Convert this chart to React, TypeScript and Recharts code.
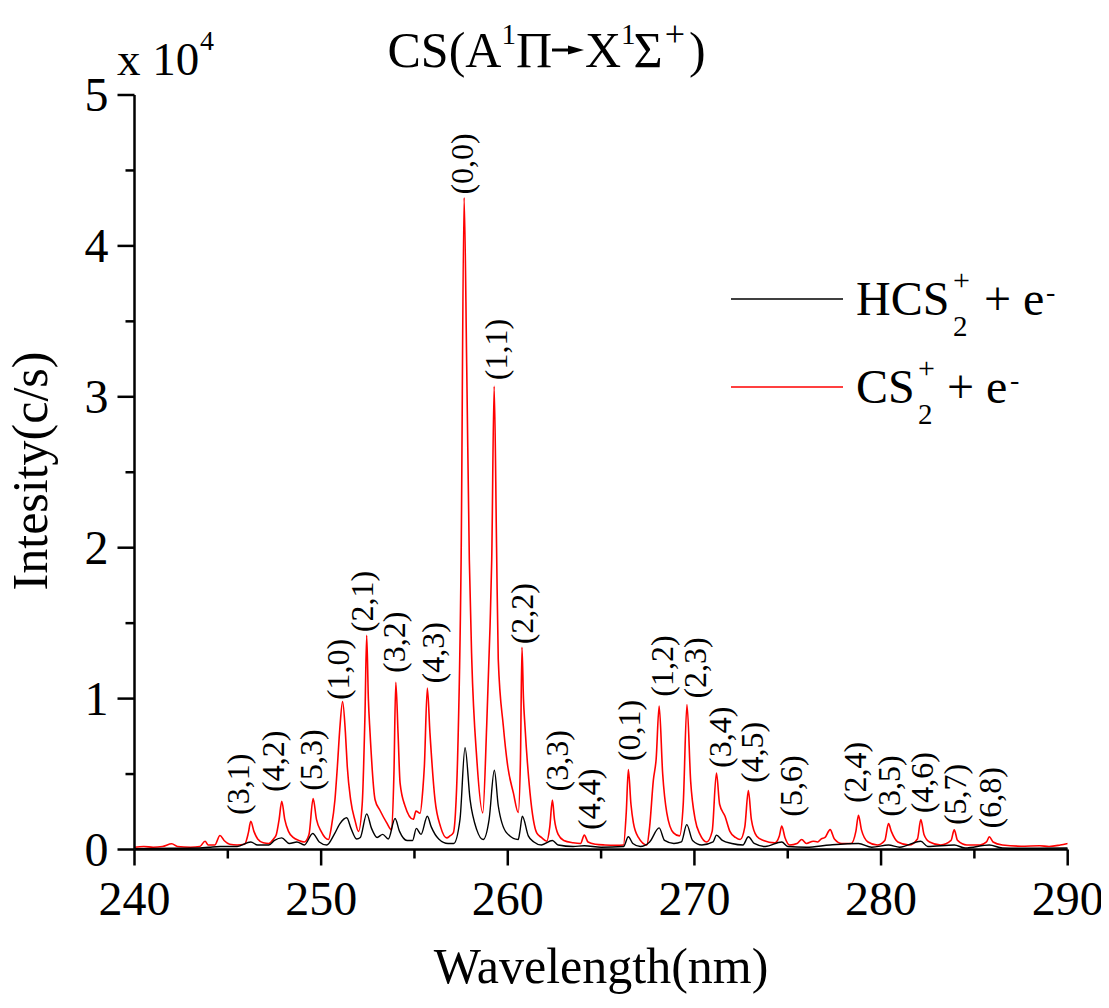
import React from "react";
import { ComposedChart, Line, Scatter, XAxis, YAxis } from "recharts";

// ---- data (intensity in units of 10^4 c/s) ----
const cs2Wavelength = [
  240.0, 240.5, 241.0, 241.5, 242.0, 242.3, 243.0, 243.5, 243.78, 243.95, 244.3, 244.58, 244.8, 245.1, 245.5, 245.9,
  246.1, 246.23, 246.4, 246.6, 246.9, 247.2, 247.45, 247.6, 247.75, 247.89, 248.05, 248.25, 248.5, 248.8, 249.1,
  249.35, 249.57, 249.75, 250.0, 250.39, 250.55, 250.74, 250.87, 251.0, 251.15, 251.3, 251.4, 251.58, 251.82, 252.0,
  252.2, 252.35, 252.44, 252.53, 252.62, 252.89, 253.15, 253.5, 253.78, 253.9, 254.0, 254.12, 254.23, 254.5, 254.94,
  255.08, 255.3, 255.45, 255.53, 255.69, 255.83, 256.1, 256.4, 256.73, 256.9, 257.08, 257.2, 257.31, 257.5, 257.66,
  257.8, 257.94, 258.07, 258.34, 258.66, 258.87, 259.05, 259.14, 259.27, 259.4, 259.49, 259.76, 260.0, 260.3, 260.56,
  260.68, 260.76, 260.84, 260.92, 261.19, 261.55, 261.8, 262.09, 262.25, 262.39, 262.5, 262.7, 263.0, 263.5, 263.9,
  264.1, 264.3, 264.7, 265.2, 265.8, 266.2, 266.35, 266.46, 266.6, 266.73, 267.0, 267.45, 267.6, 267.8, 267.95,
  268.11, 268.3, 268.52, 268.88, 269.2, 269.4, 269.6, 269.8, 270.04, 270.3, 270.66, 270.95, 271.18, 271.35, 271.64,
  271.9, 272.2, 272.45, 272.7, 272.89, 273.05, 273.34, 273.7, 274.3, 274.55, 274.68, 274.85, 275.1, 275.5, 275.75,
  276.0, 276.37, 276.6, 276.8, 277.0, 277.27, 277.5, 277.9, 278.4, 278.65, 278.79, 278.95, 279.3, 279.8, 280.2,
  280.4, 280.55, 280.9, 281.5, 281.95, 282.13, 282.3, 282.6, 283.2, 283.75, 283.92, 284.1, 284.6, 285.3, 285.65,
  285.8, 286.0, 286.5, 287.5, 288.5, 289.0, 289.6, 290.0,
];
const cs2Intensity = [
  0.015, 0.02, 0.015, 0.02, 0.038, 0.02, 0.015, 0.02, 0.055, 0.03, 0.03, 0.093, 0.06, 0.035, 0.03, 0.035,
  0.11, 0.187, 0.12, 0.07, 0.045, 0.04, 0.07, 0.1, 0.2, 0.32, 0.2, 0.12, 0.08, 0.06, 0.05,
  0.1, 0.338, 0.2, 0.12, 0.066, 0.15, 0.33, 0.55, 0.8, 0.98, 0.775, 0.55, 0.33, 0.19, 0.12,
  0.3, 0.9, 1.42, 1.0, 0.775, 0.33, 0.26, 0.18, 0.13, 0.5, 1.108, 0.773, 0.44, 0.287, 0.2,
  0.254, 0.24, 0.4, 0.55, 1.07, 0.773, 0.33, 0.15, 0.077, 0.09, 0.11, 0.25, 0.6, 1.92, 4.32,
  3.2, 1.92, 1.26, 0.6, 0.243, 0.82, 1.48, 1.92, 3.07, 2.0, 1.26, 0.82, 0.55, 0.375, 0.245,
  0.6, 1.34, 1.0, 0.82, 0.377, 0.11, 0.08, 0.055, 0.15, 0.327, 0.2, 0.1, 0.06, 0.045, 0.04,
  0.095, 0.05, 0.035, 0.03, 0.028, 0.03, 0.25, 0.53, 0.3, 0.177, 0.08, 0.03, 0.15, 0.46, 0.6,
  0.95, 0.5, 0.243, 0.11, 0.09, 0.3, 0.96, 0.45, 0.2, 0.1, 0.05, 0.12, 0.507, 0.3, 0.22,
  0.12, 0.08, 0.066, 0.15, 0.39, 0.2, 0.088, 0.06, 0.044, 0.09, 0.155, 0.08, 0.03, 0.04, 0.066,
  0.04, 0.055, 0.05, 0.07, 0.08, 0.132, 0.07, 0.04, 0.04, 0.12, 0.227, 0.13, 0.05, 0.03, 0.06,
  0.172, 0.12, 0.05, 0.03, 0.07, 0.199, 0.1, 0.05, 0.03, 0.06, 0.13, 0.06, 0.03, 0.03, 0.05,
  0.084, 0.05, 0.03, 0.022, 0.025, 0.02, 0.03, 0.04,
];

const hcs2Wavelength = [
  240.0, 242.0, 243.5, 244.0, 244.6, 245.5, 246.23, 246.6, 247.2, 247.5, 247.89, 248.3, 248.7, 249.1, 249.55,
  249.9, 250.3, 250.7, 251.0, 251.37, 251.6, 251.9, 252.1, 252.44, 252.7, 253.0, 253.3, 253.6, 253.96, 254.2,
  254.6, 254.9, 255.1, 255.35, 255.69, 255.9, 256.3, 256.8, 257.1, 257.44, 257.71, 257.98, 258.34, 258.68, 259.0,
  259.28, 259.49, 259.94, 260.56, 260.65, 260.78, 261.1, 261.4, 261.8, 262.39, 262.7, 263.5, 264.1,
  265.0, 266.2, 266.46, 266.7, 267.1, 267.6, 268.11, 268.4, 268.9, 269.3, 269.59, 269.9, 270.4, 271.0, 271.18,
  271.5, 272.0, 272.6, 272.89, 273.2, 273.8, 274.68, 275.0, 276.0, 277.27, 278.79, 279.5, 280.4, 281.0, 282.13,
  282.5, 283.92, 284.5, 285.8, 286.5, 288.0, 290.0,
];
const hcs2Intensity = [
  0.005, 0.008, 0.01, 0.015, 0.02, 0.02, 0.05, 0.03, 0.03, 0.06, 0.077, 0.04, 0.05, 0.03, 0.106,
  0.05, 0.03, 0.1, 0.17, 0.21, 0.14, 0.07, 0.08, 0.236, 0.14, 0.08, 0.1, 0.07, 0.205, 0.12,
  0.06, 0.06, 0.14, 0.1, 0.22, 0.15, 0.07, 0.04, 0.04, 0.2, 0.674, 0.33, 0.13, 0.066, 0.2,
  0.525, 0.29, 0.11, 0.066, 0.12, 0.22, 0.09, 0.05, 0.03, 0.06, 0.03, 0.02, 0.025,
  0.015, 0.02, 0.084, 0.04, 0.02, 0.05, 0.143, 0.06, 0.04, 0.05, 0.165, 0.06, 0.03, 0.05, 0.095,
  0.06, 0.04, 0.03, 0.084, 0.04, 0.02, 0.05, 0.02, 0.015, 0.03, 0.04, 0.015, 0.03, 0.015, 0.055,
  0.02, 0.03, 0.01, 0.03, 0.01, 0.008, 0.01,
];

const bandLabels = [
  "(3,1)", "(4,2)", "(5,3)", "(1,0)", "(2,1)", "(3,2)", "(4,3)", "(0,0)", "(1,1)", "(2,2)", "(3,3)", "(4,4)",
  "(0,1)", "(1,2)", "(2,3)", "(3,4)", "(4,5)", "(5,6)", "(2,4)", "(3,5)", "(4,6)", "(5,7)", "(6,8)",
];
const bandLabelWavelength = [
  245.71, 247.58, 249.62, 251.06, 252.35, 254.06, 256.15, 257.71, 259.53, 260.92, 262.8, 264.51,
  266.66, 268.43, 270.2, 271.54, 273.25, 275.34, 278.76, 280.58, 282.35, 284.12, 285.99,
];
const bandLabelHeight = [
  0.229, 0.381, 0.39, 0.99, 1.44, 1.17, 1.1, 4.34, 3.11, 1.36, 0.385, 0.13,
  0.585, 1.013, 1.0, 0.54, 0.44, 0.217, 0.308, 0.217, 0.24, 0.162, 0.14,
];

const xTicks = [240, 245, 250, 255, 260, 265, 270, 275, 280, 285, 290];
const yTicks = [0, 0.5, 1, 1.5, 2, 2.5, 3, 3.5, 4, 4.5, 5];

const cs2Data = cs2Wavelength.map((x, i) => ({ x, y: cs2Intensity[i] }));
const hcs2Data = hcs2Wavelength.map((x, i) => ({ x, y: hcs2Intensity[i] }));
const labelData = bandLabels.map((name, i) => ({ x: bandLabelWavelength[i], y: bandLabelHeight[i], name }));

const FONT = "Liberation Serif, DejaVu Serif, serif";

const XTick = (props: any) => {
  const { x, y, payload } = props;
  const major = payload.value % 10 === 0;
  return (
    <g>
      <line x1={x} x2={x} y1={y} y2={y + (major ? 16 : 9)} stroke="#000" strokeWidth={2.5} />
      {major && (
        <text x={x} y={y + 65} textAnchor="middle" fontSize={48} fontFamily={FONT} fill="#000">
          {payload.value}
        </text>
      )}
    </g>
  );
};

const YTick = (props: any) => {
  const { x, y, payload } = props;
  const major = Number.isInteger(payload.value);
  return (
    <g>
      <line x1={x - (major ? 17 : 9)} x2={x} y1={y} y2={y} stroke="#000" strokeWidth={2.5} />
      {major && (
        <text x={x - 26} y={y + 16} textAnchor="end" fontSize={48} fontFamily={FONT} fill="#000">
          {payload.value}
        </text>
      )}
    </g>
  );
};

const BandLabel = (props: any) => {
  const { cx, cy, payload } = props;
  return (
    <text
      x={cx}
      y={cy}
      dy="0.25em"
      transform={`rotate(-90 ${cx} ${cy})`}
      textAnchor="start"
      fontSize={32}
      fontFamily={FONT}
      fill="#000"
    >
      {payload.name}
    </text>
  );
};

export default function App() {
  const o = 8; // page offset of the wrapper
  return (
    <div style={{ position: "relative", width: 1101, height: 1000, fontFamily: FONT }}>
      <ComposedChart
        width={1101}
        height={1000}
        margin={{ top: 87, right: 41.3, bottom: 98.5, left: 66.5 }}
      >
        <XAxis
          type="number"
          dataKey="x"
          domain={[240, 290]}
          ticks={xTicks}
          interval={0}
          allowDataOverflow
          height={60}
          tickSize={0}
          tickMargin={0}
          tickLine={false}
          axisLine={{ stroke: "#000", strokeWidth: 2.5 }}
          tick={<XTick />}
        />
        <YAxis
          type="number"
          domain={[0, 5]}
          ticks={yTicks}
          interval={0}
          allowDataOverflow
          width={60}
          tickSize={0}
          tickMargin={0}
          tickLine={false}
          axisLine={{ stroke: "#000", strokeWidth: 2.5 }}
          tick={<YTick />}
        />
        <Line
          data={cs2Data}
          dataKey="y"
          type="monotone"
          stroke="#ff0000"
          strokeWidth={1.6}
          dot={false}
          activeDot={false}
          isAnimationActive={false}
        />
        <Line
          data={hcs2Data}
          dataKey="y"
          type="monotone"
          stroke="#000000"
          strokeWidth={1.4}
          dot={false}
          activeDot={false}
          isAnimationActive={false}
        />
        <Scatter data={labelData} dataKey="y" shape={<BandLabel />} isAnimationActive={false} />
      </ComposedChart>

      <svg
        width={1101}
        height={1000}
        style={{ position: "absolute", left: 0, top: 0, pointerEvents: "none", overflow: "visible" }}
        fontFamily={FONT}
      >
        {/* multiplier */}
        <text x={117 - o} y={75 - o} fontSize={47} fill="#000">
          x 10
        </text>
        <text x={200 - o} y={50 - o} fontSize={28} fill="#000">
          4
        </text>

        {/* title */}
        <text x={552 - o} y={67 - o} fontSize={50} textAnchor="end" fill="#000">
          CS(A<tspan dy={-23} fontSize={29}>1</tspan>
          <tspan dy={23}>Π</tspan>
        </text>
        <line x1={552 - o} x2={572 - o} y1={50 - o} y2={50 - o} stroke="#000" strokeWidth={3} />
        <polygon points={`${568 - o},${45.5 - o} ${584 - o},${50 - o} ${568 - o},${54.5 - o}`} fill="#000" />
        <text x={585 - o} y={67 - o} fontSize={50} fill="#000">
          X<tspan dy={-23} fontSize={29}>1</tspan>
          <tspan dy={23} dx={-2}>Σ</tspan>
          <tspan dy={-21} dx={2} fontSize={36}>+</tspan>
          <tspan dy={21} dx={4}>)</tspan>
        </text>

        {/* legend */}
        <line x1={731 - o} x2={843 - o} y1={299 - o} y2={299 - o} stroke="#000" strokeWidth={1.5} />
        <text x={856 - o} y={315 - o} fontSize={48} fill="#000">HCS</text>
        <text x={953 - o} y={290 - o} fontSize={30} fill="#000">+</text>
        <text x={953 - o} y={336 - o} fontSize={29} fill="#000">2</text>
        <text x={984 - o} y={315 - o} fontSize={48} fill="#000">+ e</text>
        <text x={1046 - o} y={301 - o} fontSize={28} fill="#000">-</text>

        <line x1={731 - o} x2={843 - o} y1={387 - o} y2={387 - o} stroke="#ff0000" strokeWidth={1.5} />
        <text x={856 - o} y={403 - o} fontSize={48} fill="#000">CS</text>
        <text x={918 - o} y={378 - o} fontSize={30} fill="#000">+</text>
        <text x={918 - o} y={424 - o} fontSize={29} fill="#000">2</text>
        <text x={947 - o} y={403 - o} fontSize={48} fill="#000">+ e</text>
        <text x={1010 - o} y={389 - o} fontSize={28} fill="#000">-</text>

        {/* axis titles */}
        <text x={601 - o} y={983 - o} fontSize={50} textAnchor="middle" fill="#000">
          Wavelength(nm)
        </text>
        <text
          x={47 - o}
          y={471 - o}
          fontSize={50}
          textAnchor="middle"
          fill="#000"
          transform={`rotate(-90 ${47 - o} ${471 - o})`}
        >
          Intesity(c/s)
        </text>
      </svg>
    </div>
  );
}
